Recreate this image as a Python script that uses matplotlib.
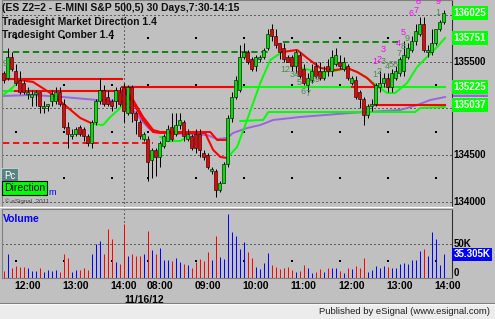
import matplotlib.pyplot as plt
from matplotlib.patches import Rectangle
from matplotlib.lines import Line2D

plt.rcParams['font.family'] = ['Liberation Sans', 'DejaVu Sans']

# 5 minute ES bars, 11/15 11:30 -> 14:10 then 11/16 7:30 -> 13:55
opens = [1353.75, 1353.25, 1355.5, 1354.0, 1353.0, 1352.75, 1351.5, 1351.25, 1351.5, 1351.75,
         1350.0, 1350.25, 1350.75, 1350.75, 1351.75, 1350.5, 1348.0, 1347.0, 1347.25, 1348.0,
         1347.75, 1347.0, 1346.25, 1348.5, 1350.75, 1352.0, 1351.25, 1350.75, 1350.75, 1351.75,
         1352.25, 1349.5, 1352.25, 1349.5, 1348.5, 1346.75, 1346.75, 1344.5, 1345.5, 1344.75,
         1346.0, 1346.5, 1348.0, 1347.25, 1348.25, 1348.5, 1346.75, 1347.0, 1347.25, 1347.25,
         1345.25, 1345.0, 1343.25, 1343.25, 1341.25, 1342.0, 1344.0, 1349.0, 1351.25, 1352.0,
         1355.5, 1356.0, 1355.25, 1354.5, 1355.25, 1355.5, 1356.5, 1358.5, 1357.75, 1357.0,
         1356.5, 1355.5, 1355.5, 1354.5, 1355.75, 1354.25, 1352.5, 1353.0, 1354.5, 1354.0,
         1353.25, 1354.5, 1354.0, 1354.75, 1355.0, 1354.25, 1354.5, 1352.75, 1353.0, 1351.75,
         1351.0, 1349.25, 1350.25, 1350.5, 1352.25, 1352.75, 1353.25, 1352.25, 1353.25, 1353.75,
         1354.0, 1355.5, 1356.25, 1357.25, 1358.0, 1359.0, 1356.0, 1356.0, 1357.0, 1358.5,
         1359.25]
highs = [1354.0, 1356.5, 1356.0, 1354.75, 1354.0, 1353.0, 1352.25, 1352.0, 1352.0, 1351.75,
         1350.75, 1350.5, 1352.0, 1352.25, 1352.25, 1351.0, 1348.5, 1347.75, 1348.0, 1348.25,
         1348.0, 1347.25, 1348.75, 1351.0, 1353.25, 1352.5, 1352.0, 1351.0, 1352.25, 1352.25,
         1352.75, 1352.5, 1352.5, 1349.75, 1348.75, 1347.5, 1347.0, 1345.75, 1345.75, 1346.5,
         1347.25, 1348.25, 1349.5, 1349.5, 1349.5, 1348.75, 1347.75, 1347.25, 1347.75, 1347.75,
         1345.5, 1345.25, 1343.75, 1343.5, 1342.25, 1344.25, 1349.25, 1351.75, 1353.5, 1356.75,
         1357.0, 1356.25, 1355.5, 1355.75, 1355.75, 1356.5, 1358.5, 1359.0, 1358.5, 1357.0,
         1357.0, 1355.75, 1355.75, 1356.25, 1356.0, 1354.75, 1353.75, 1354.75, 1355.0, 1355.0,
         1354.5, 1355.25, 1356.25, 1356.5, 1355.75, 1355.5, 1354.75, 1353.5, 1353.5, 1352.0,
         1351.25, 1350.5, 1351.0, 1352.75, 1354.0, 1353.75, 1353.75, 1354.25, 1354.5, 1355.5,
         1357.25, 1357.0, 1357.75, 1359.0, 1359.75, 1359.75, 1356.75, 1358.5, 1358.5, 1359.5,
         1360.5]
lows = [1352.75, 1353.0, 1354.0, 1352.5, 1351.5, 1351.5, 1351.0, 1350.25, 1350.25, 1349.5,
        1349.5, 1349.75, 1350.25, 1350.5, 1350.25, 1347.75, 1345.75, 1346.75, 1347.0, 1347.0,
        1346.5, 1346.0, 1345.75, 1348.25, 1350.5, 1350.25, 1350.25, 1349.75, 1350.0, 1350.25,
        1348.5, 1349.25, 1348.5, 1347.25, 1346.75, 1346.5, 1342.25, 1342.5, 1342.75, 1343.75,
        1345.75, 1346.5, 1346.5, 1347.0, 1347.75, 1346.5, 1346.5, 1345.5, 1345.25, 1344.75,
        1344.5, 1343.5, 1343.0, 1340.5, 1341.0, 1342.0, 1343.75, 1348.5, 1351.0, 1351.75,
        1355.25, 1354.75, 1354.0, 1354.0, 1355.0, 1355.25, 1356.25, 1357.25, 1356.5, 1355.25,
        1355.0, 1355.0, 1354.0, 1353.75, 1353.25, 1352.5, 1351.75, 1352.75, 1353.25, 1353.0,
        1353.0, 1353.5, 1353.5, 1354.5, 1354.25, 1354.0, 1353.0, 1352.5, 1351.0, 1350.0,
        1348.25, 1349.0, 1349.75, 1350.25, 1351.75, 1352.25, 1351.75, 1351.75, 1353.0, 1353.5,
        1353.5, 1355.25, 1356.0, 1356.75, 1357.75, 1356.0, 1355.5, 1355.75, 1356.75, 1358.25,
        1359.0]
closes = [1353.0, 1355.5, 1354.25, 1352.75, 1351.75, 1351.75, 1351.75, 1351.5, 1351.75, 1350.25,
          1350.25, 1350.5, 1351.5, 1351.75, 1350.5, 1348.0, 1347.25, 1347.25, 1347.75, 1347.25,
          1347.0, 1346.25, 1348.5, 1350.75, 1352.0, 1350.5, 1350.5, 1350.25, 1352.0, 1350.5,
          1349.75, 1352.25, 1349.5, 1348.75, 1347.0, 1347.25, 1344.25, 1345.5, 1344.75, 1346.25,
          1347.0, 1347.75, 1346.75, 1348.25, 1348.75, 1347.0, 1347.25, 1345.75, 1345.75, 1345.5,
          1344.75, 1343.75, 1343.5, 1341.25, 1342.0, 1344.0, 1349.0, 1351.25, 1353.0, 1355.5,
          1356.0, 1355.0, 1354.25, 1355.5, 1355.5, 1356.25, 1358.0, 1357.75, 1356.75, 1356.0,
          1355.25, 1355.0, 1354.5, 1356.0, 1353.5, 1352.75, 1353.25, 1354.0, 1353.5, 1353.25,
          1354.0, 1354.0, 1355.5, 1355.75, 1354.5, 1355.0, 1353.25, 1353.25, 1351.25, 1351.0,
          1349.25, 1350.25, 1350.5, 1352.5, 1352.75, 1353.25, 1352.25, 1353.75, 1354.0, 1355.25,
          1355.75, 1356.5, 1357.25, 1358.25, 1359.0, 1356.25, 1356.25, 1357.0, 1358.5, 1359.25,
          1360.25]
volumes = [10, 35, 14, 17, 16, 16, 15, 10, 10, 14, 9, 11, 10, 11, 9, 35, 29, 9, 11, 11,
           14, 11, 35, 51, 55, 35, 73, 58, 23, 20, 80, 33, 35, 33, 32, 35, 70, 41, 35, 45,
           27, 26, 25, 30, 23, 21, 19, 15, 23, 28, 25, 38, 26, 62, 31, 28, 95, 69, 63, 43,
           53, 38, 30, 16, 13, 22, 37, 19, 16, 13, 15, 16, 11, 8, 10, 19, 15, 7, 9, 13,
           8, 15, 15, 15, 10, 7, 14, 13, 18, 15, 30, 9, 11, 17, 15, 17, 16, 15, 14, 20,
           22, 20, 27, 27, 40, 43, 32, 68, 58, 19, 35.305]

tick_bars = [6, 18, 30, 39, 51, 63, 75, 87, 99, 111]
tick_labels = ['12:00', '13:00', '14:00', '08:00', '09:00', '10:00', '11:00', '12:00', '13:00', '14:00']
minor_dot_bars = [3, 15, 27, 36, 48, 60, 72, 84, 96, 108]
day_break_bar = 30

# Comber moving average pieces, (bar, price)
green_ma = [
    [(-0.1, 1351.44), (1.2, 1351.86), (2.4, 1352.29), (4.2, 1353.04)],
    [(22.4, 1348.33), (24.9, 1348.22), (26.7, 1349.08), (29.2, 1350.04), (29.9, 1350.58)],
    [(39.2, 1346.94), (41.7, 1346.51), (44.2, 1346.51), (46.2, 1347.04)],
    [(55.9, 1344.69), (58.4, 1345.87), (60.9, 1348.76), (64.2, 1352.72), (66.7, 1355.18), (69.7, 1356.04)],
    [(74.2, 1354.33), (79.2, 1353.90), (82.9, 1354.0), (85.9, 1354.33), (88.4, 1353.9), (90.9, 1353.26),
     (93.4, 1352.40), (95.9, 1351.65), (97.9, 1351.65), (100.9, 1352.72), (103.4, 1354.43),
     (105.9, 1355.51), (108.4, 1356.58), (110.4, 1357.54)],
]
red_ma = [
    [(4.2, 1353.04), (7.4, 1352.83), (11.7, 1351.65), (15.9, 1350.15), (19.2, 1348.97), (22.4, 1348.33)],
    [(29.9, 1352.29), (32.4, 1350.90), (34.9, 1349.08), (37.4, 1347.69), (39.2, 1347.47), (51.7, 1347.47),
     (53.4, 1346.62), (55.9, 1346.62)],
    [(29.9, 1351.97), (32.4, 1350.58), (34.9, 1348.76), (37.4, 1347.47), (39.2, 1347.37), (50.4, 1347.37),
     (52.4, 1345.56), (54.2, 1344.80), (55.9, 1344.69)],
    [(69.7, 1356.04), (73.4, 1356.26), (75.9, 1355.40), (79.2, 1354.33), (82.9, 1354.11), (85.9, 1354.33),
     (88.4, 1353.90), (90.9, 1353.26), (93.4, 1352.19)],
]
purple_ma = [(-0.1, 1351.33), (7.4, 1351.44), (14.9, 1351.22), (23.4, 1350.90), (29.2, 1350.79),
             (29.9, 1350.69), (32.4, 1349.83), (34.9, 1348.54), (36.7, 1347.69), (39.2, 1347.37),
             (50.9, 1347.15), (53.4, 1346.72), (55.9, 1346.83), (57.4, 1347.37), (60.9, 1347.90),
             (64.2, 1348.22), (67.4, 1348.76), (74.2, 1349.08), (86.7, 1349.51), (99.2, 1349.83),
             (103.4, 1350.36), (106.7, 1350.90), (110.4, 1351.22)]
green_stop = [(59.2, 1348.65), (64.9, 1348.76), (66.2, 1349.61), (102.9, 1349.61), (104.2, 1350.04),
              (110.4, 1350.15)]

# Market Direction levels, (start bar, end bar, price)
red_levels = [(0.2, 29.5, 1353.1), (2.9, 29.7, 1351.9), (29.7, 57.4, 1352.3), (87.2, 93.4, 1352.25),
              (92.9, 110.4, 1350.37)]
green_levels = [(-0.1, 2.9, 1351.9), (57.4, 110.4, 1352.25)]
red_dashed_levels = [(-0.1, 37.4, 1346.33)]
green_dashed_levels = [(-0.1, 66.2, 1356.0), (69.9, 98.7, 1357.08)]

# Comber counts
count_bars = [0.4, 70.4, 72.9, 73.9, 74.9, 76.1, 77.2, 78.4, 92.9, 93.9, 94.9, 95.9, 97.6, 99.0, 100.0, 101.0, 108.7]
count_prices = [1354.86, 1354.2, 1353.6, 1352.75, 1351.86, 1351.55, 1353.04, 1353.14, 1353.58, 1354.0,
                1354.97, 1354.54, 1354.75, 1355.93, 1356.68, 1357.54, 1360.22]
count_texts = ['9', '12', '34', '5', '6', '7', '8', '9', '1', '2', '3', '4', '58', '7', '8', '9', '1']
magenta_bars = [92.9, 93.9, 94.9, 98.7, 100.0, 101.9, 103.1, 103.7, 108.7]
magenta_prices = [1354.97, 1355.29, 1356.26, 1357.0, 1358.08, 1360.2, 1360.5, 1361.5, 1361.5]
magenta_texts = ['1', '2', '3', '4', '5', '6', '7', '8', '9']

# right hand price markers
grid_prices = [1360.0, 1355.0, 1350.0, 1345.0, 1340.0]
minor_prices = [1357.5, 1352.5, 1347.5, 1342.5]
plain_labels = [1355.0, 1345.0, 1340.0]
green_marker_prices = [1360.25, 1357.51, 1352.25, 1350.37]

W, H = 495, 319
BG = '#c0c0c0'
UP = '#00e000'
DOWN = '#ee0000'

fig = plt.figure(figsize=(W / 100, H / 100), dpi=100, facecolor=BG)

ax = fig.add_axes([2 / W, 1 - 207 / H, 450 / W, 207 / H], facecolor=BG)
axv = fig.add_axes([2 / W, 1 - 277.7 / H, 450 / W, 68.7 / H], facecolor=BG)
for a in (ax, axv):
    # 4 px per bar, bar centres on pixel centres
    a.set_xlim(-0.375, 112.125)
    for s in a.spines.values():
        s.set_color('#808080')
        s.set_linewidth(0.8)
    a.spines['right'].set_color('#303030')
    a.tick_params(length=0)
ax.set_ylim(1339.44, 1361.61)
axv.set_ylim(0, 102.8)
ax.set_xticks([])
ax.set_yticks([])
axv.set_yticks([])
axv.set_xticks(tick_bars)
axv.set_xticklabels(tick_labels, fontsize=7.5, fontweight='bold')
axv.tick_params(axis='x', pad=2.2)

dot = (0, (1, 3))
for p in grid_prices:
    ax.axhline(p, color='black', lw=0.72, ls=dot, zorder=1)
axv.axhline(50, color='black', lw=0.72, ls=dot, zorder=1)
for a in (ax, axv):
    a.axvline(day_break_bar, color='black', lw=0.72, ls=dot, zorder=1)
ax.scatter([b for b in minor_dot_bars for _ in minor_prices],
           [p for _ in minor_dot_bars for p in minor_prices], s=0.6, c='black', marker='s', lw=0, zorder=1)
axv.scatter(minor_dot_bars, [25] * len(minor_dot_bars), s=0.6, c='black', marker='s', lw=0, zorder=1)

# levels
for x0, x1, p in green_dashed_levels:
    ax.plot([x0, x1], [p, p], color='#008000', lw=1.3, ls=(0, (3.5, 2)), zorder=2)
for x0, x1, p in red_dashed_levels:
    ax.plot([x0, x1], [p, p], color='#ff0000', lw=1.3, ls=(0, (3.5, 2)), zorder=2)
for x0, x1, p in green_levels:
    ax.plot([x0, x1], [p, p], color='#00ff00', lw=1.4, zorder=2)
ax.plot([pt[0] for pt in purple_ma], [pt[1] for pt in purple_ma], color='#9966dd', lw=1.4, zorder=2)
ax.plot([pt[0] for pt in green_stop], [pt[1] for pt in green_stop], color='#00ff00', lw=1.4, zorder=2)
for x0, x1, p in red_levels:
    ax.plot([x0, x1], [p, p], color='#ff0000', lw=1.5, zorder=2)
for seg in green_ma:
    ax.plot([pt[0] for pt in seg], [pt[1] for pt in seg], color='#00ff00', lw=1.4, zorder=2)
for seg in red_ma:
    ax.plot([pt[0] for pt in seg], [pt[1] for pt in seg], color='#ff0000', lw=1.5, zorder=2)

# candles and volume
up = [c >= o for o, c in zip(opens, closes)]
bars_x = list(range(len(opens)))
ax.vlines(bars_x, lows, highs, color='black', lw=0.72, zorder=3)
ax.bar(bars_x, [max(abs(c - o), 0.08) for o, c in zip(opens, closes)],
       bottom=[min(o, c) for o, c in zip(opens, closes)], width=0.7,
       color=[UP if u else DOWN for u in up], edgecolor='black', linewidth=0.4, zorder=4)
axv.vlines(bars_x, 0, volumes, colors=['#0000ff' if u else '#ff0000' for u in up], lw=0.72, zorder=3)

for b, p, t in zip(count_bars, count_prices, count_texts):
    ax.text(b, p, t, color='#4f8a4f', fontsize=6.5, ha='center', va='center', zorder=5)
for b, p, t in zip(magenta_bars, magenta_prices, magenta_texts):
    ax.text(b, p, t, color='#ff00ff', fontsize=6.5, ha='center', va='center', zorder=5, clip_on=True)

# right axis labels
ty = ax.get_yaxis_transform()
for p in plain_labels:
    ax.text(1.004, p, f'{p * 100:.0f}', transform=ty, fontsize=7, fontweight='bold', va='center', ha='left')
ax.add_patch(Rectangle((1.002, 1350.75), 0.078, 0.75, transform=ty, facecolor='#9966cc',
                       edgecolor='#e8dcff', hatch='----', lw=0, clip_on=False, zorder=5))
for p in green_marker_prices:
    ax.text(1.004, p, f'{p * 100:.0f}', transform=ty, fontsize=7, fontweight='bold', va='center', ha='left',
            color='white', zorder=6,
            bbox=dict(boxstyle='square,pad=0.2', facecolor='#00ff00', edgecolor='none'))

ty2 = axv.get_yaxis_transform()
axv.text(1.004, 50, '50K', transform=ty2, fontsize=7, fontweight='bold', va='center')
axv.text(1.004, 0, '0', transform=ty2, fontsize=7, fontweight='bold', va='bottom')
axv.text(1.004, volumes[-1], f'{volumes[-1]:.3f}K', transform=ty2, fontsize=7, fontweight='bold',
         va='center', color='white',
         bbox=dict(boxstyle='square,pad=0.15', facecolor='#0000ff', edgecolor='none'))
axv.text(0.002, 0.93, 'Volume', transform=axv.transAxes, color='#0000ff', fontsize=7.5,
         fontweight='bold', va='top')

# study titles
ax.text(0.0, 0.985, '(ES Z2=2 - E-MINI S&P 500,5) 30 Days,7:30-14:15', transform=ax.transAxes,
        fontsize=7.5, fontweight='bold', va='top', color='#101010')
ax.text(0.0, 0.92, 'Tradesight Market Direction 1.4', transform=ax.transAxes,
        fontsize=7.5, fontweight='bold', va='top', color='#101010')
ax.text(0.0, 0.855, 'Tradesight Comber 1.4', transform=ax.transAxes,
        fontsize=7.5, fontweight='bold', va='top', color='#101010')

# bottom left badges
ax.text(0.004, 0.15, 'Pc', transform=ax.transAxes, fontsize=7, color='white', va='center',
        bbox=dict(boxstyle='square,pad=0.3', facecolor='#5a8484', edgecolor='#c8d8d8', lw=0.6))
ax.text(0.104, 0.072, 'm', transform=ax.transAxes, fontsize=6.5, color='#0000ff', va='center')
ax.text(0.005, 0.09, 'Direction', transform=ax.transAxes, fontsize=7.5, color='black', va='center',
        bbox=dict(boxstyle='square,pad=0.2', facecolor='#00ff00', edgecolor='black', lw=0.8))
ax.text(0.006, 0.028, '\u00a9 eSignal, 2011', transform=ax.transAxes, fontsize=4.5, color='#404040',
        va='center')

axv.text(123 / 450 - 0.002, -0.32, '11/16/12', transform=axv.transAxes, fontsize=7.5,
         fontweight='bold', va='center', ha='left')

# status bar
fig.patches.append(Rectangle((0, 0), 1, 15 / H, transform=fig.transFigure, facecolor='#ececec',
                             edgecolor='none'))
fig.lines.append(Line2D([0, 1], [15 / H, 15 / H], transform=fig.transFigure, color='white', lw=1))
fig.lines.append(Line2D([0, 1], [16 / H, 16 / H], transform=fig.transFigure, color='#808080', lw=0.8))
fig.lines.append(Line2D([0, 452 / W], [1 - 206.5 / H, 1 - 206.5 / H], transform=fig.transFigure,
                        color='white', lw=1))
fig.text(490 / W, 8 / H, 'Published by eSignal (www.esignal.com)', fontsize=6.8, ha='right',
         va='center', color='#202020')

fig.savefig('out.png', dpi=100, facecolor=BG)
